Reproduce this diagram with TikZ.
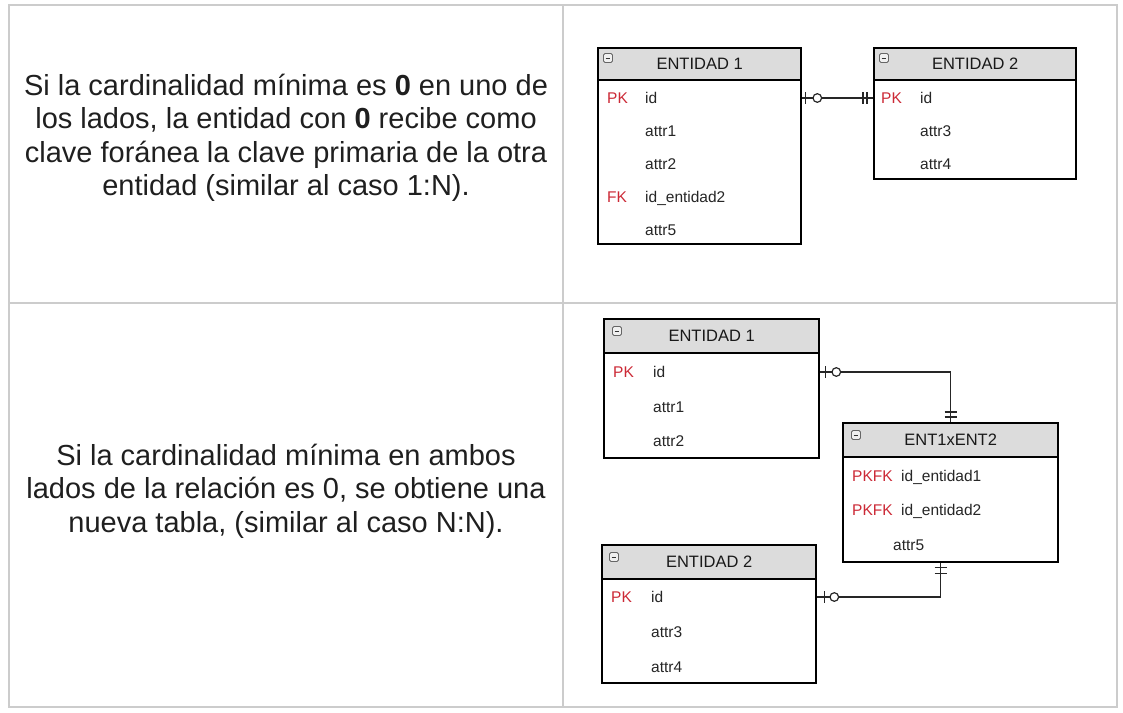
\documentclass[tikz,border=0pt]{standalone}
\usepackage{fontspec}
\setmainfont{Liberation Sans}

\definecolor{rejilla}{HTML}{CCCCCC}
\definecolor{cabeza}{HTML}{DCDCDC}
\definecolor{clave}{HTML}{CC2936}

\tikzset{
  tabla/.style={draw=black, line width=2.3pt, fill=white, inner sep=0, anchor=north west},
  cabecera/.style={tabla, fill=cabeza, font=\fontsize{16.5}{16.5}\selectfont, text=black!90},
  campo/.style={font=\fontsize{15.5}{15.5}\selectfont, text=black!85, inner sep=0, anchor=west, text height=11pt, text depth=0pt},
  pk/.style={campo, text=clave},
  rel/.style={line width=1.2pt, black!85},
  icono/.style={draw=black!60, fill=black!6, rounded corners=1.5pt, minimum size=9pt, inner sep=0, line width=.8pt,
    path picture={\draw[black!80, line width=1pt] ([xshift=2.2pt]path picture bounding box.west) -- ([xshift=-2.2pt]path picture bounding box.east);}},
  texto/.style={font=\fontsize{29}{33.5}\selectfont, text=black!88, align=center}
}

\begin{document}
\begin{tikzpicture}
\begin{scope}[x=1pt,y=-1pt]
\useasboundingbox (0,0) rectangle (1123,712);
% rejilla de la tabla
\draw[rejilla, line width=2pt] (9,5) rectangle (1117,707);
\draw[rejilla, line width=2pt] (563,5) -- (563,707);
\draw[rejilla, line width=2pt] (9,303) -- (1117,303);

% textos
\node[texto] (txt1) at (286,138) {Si la cardinalidad mínima es \textbf{0} en uno de\\los lados, la entidad con \textbf{0} recibe como\\clave foránea la clave primaria de la otra\\entidad (similar al caso 1:N).};
\node[texto] (txt2) at (286,491) {Si la cardinalidad mínima en ambos\\lados de la relación es 0, se obtiene una\\nueva tabla, (similar al caso N:N).};

% caso 1: ENTIDAD 1 -- ENTIDAD 2
\node[tabla, minimum width=203pt, minimum height=196pt] (e1a) at (597,47) {};
\node[cabecera, minimum width=203pt, minimum height=32pt] (e1a-h) at (597,47) {ENTIDAD 1};
\node[icono] (e1a-ic) at ([xshift=11pt,yshift=-11pt]e1a.north west) {};
\node[pk] (e1a-pk) at (607,98) {PK};
\node[pk] (e1a-fk) at (607,197) {FK};
\foreach \t [count=\i] in {id,attr1,attr2,id\_entidad2,attr5}
  \node[campo] (e1a-\i) at (645,{98+33*(\i-1)}) {\t};

\node[tabla, minimum width=202pt, minimum height=131pt] (e2a) at (873,47) {};
\node[cabecera, minimum width=202pt, minimum height=32pt] (e2a-h) at (873,47) {ENTIDAD 2};
\node[icono] (e2a-ic) at ([xshift=11pt,yshift=-11pt]e2a.north west) {};
\node[pk] (e2a-pk) at (881,98) {PK};
\foreach \t [count=\i] in {id,attr3,attr4}
  \node[campo] (e2a-\i) at (920,{98+33*(\i-1)}) {\t};

\coordinate (c1) at (e1a.east |- e1a-1);
\coordinate (c2) at (e2a.west |- e1a-1);
\draw[rel] (c1) -- (c2);
\draw[rel] ([xshift=3pt]c1) ++(0,-6) -- ++(0,12);
\draw[rel, fill=white] ([xshift=15pt]c1) circle[radius=4.3pt];
\draw[rel] ([xshift=-10pt]c2) ++(0,-6) -- ++(0,12);
\draw[rel] ([xshift=-6pt]c2) ++(0,-6) -- ++(0,12);

% caso 2: tabla nueva
\node[tabla, minimum width=215pt, minimum height=139pt] (e1b) at (603,318) {};
\node[cabecera, minimum width=215pt, minimum height=34pt] (e1b-h) at (603,318) {ENTIDAD 1};
\node[icono] (e1b-ic) at ([xshift=14pt,yshift=-13pt]e1b.north west) {};
\node[pk] (e1b-pk) at (613,372) {PK};
\foreach \t [count=\i] in {id,attr1,attr2}
  \node[campo] (e1b-\i) at (653,{372+34.5*(\i-1)}) {\t};

\node[tabla, minimum width=215pt, minimum height=139pt] (e3) at (842,422) {};
\node[cabecera, minimum width=215pt, minimum height=34pt] (e3-h) at (842,422) {ENT1xENT2};
\node[icono] (e3-ic) at ([xshift=14pt,yshift=-13pt]e3.north west) {};
\node[pk] (e3-pk1) at (852,476) {PKFK};
\node[pk] (e3-pk2) at (852,510) {PKFK};
\node[campo] (e3-1) at (901,476) {id\_entidad1};
\node[campo] (e3-2) at (901,510) {id\_entidad2};
\node[campo] (e3-3) at (893,545) {attr5};

\node[tabla, minimum width=214pt, minimum height=138pt] (e2b) at (601,544) {};
\node[cabecera, minimum width=214pt, minimum height=34pt] (e2b-h) at (601,544) {ENTIDAD 2};
\node[icono] (e2b-ic) at ([xshift=13pt,yshift=-13pt]e2b.north west) {};
\node[pk] (e2b-pk) at (611,597) {PK};
\foreach \t [count=\i] in {id,attr3,attr4}
  \node[campo] (e2b-\i) at (651,{597+35*(\i-1)}) {\t};

\coordinate (c3) at (e1b.east |- e1b-1);
\coordinate (c4) at (e2b.east |- e2b-1);
\coordinate (c5) at ([xshift=-10pt]e3.south);
\draw[rel] (c3) -| (e3.north);
\draw[rel] ([xshift=5pt]c3) ++(0,-6) -- ++(0,12);
\draw[rel, fill=white] ([xshift=16pt]c3) circle[radius=4.3pt];
\draw[rel] ([yshift=10pt]e3.north) ++(-6,0) -- ++(12,0);
\draw[rel] ([yshift=5pt]e3.north) ++(-6,0) -- ++(12,0);
\draw[rel] (c4) -| (c5);
\draw[rel] ([xshift=7pt]c4) ++(0,-6) -- ++(0,12);
\draw[rel, fill=white] ([xshift=17pt]c4) circle[radius=4.3pt];
\draw[rel] ([yshift=-4pt]c5) ++(-6,0) -- ++(12,0);
\draw[rel] ([yshift=-10pt]c5) ++(-6,0) -- ++(12,0);
\end{scope}
\end{tikzpicture}
\end{document}
